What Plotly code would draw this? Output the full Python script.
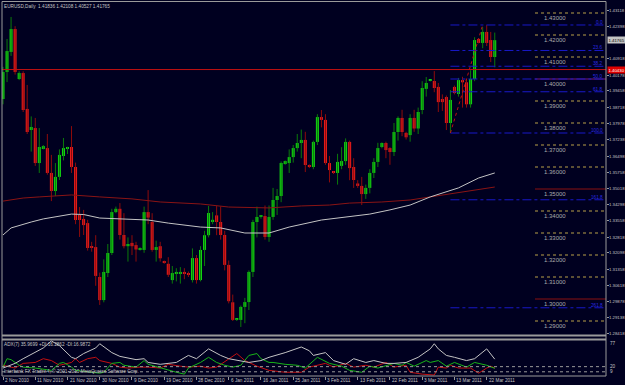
import plotly.graph_objects as go

# ---------------- data ----------------
dates = ["2010-11-02","2010-11-03","2010-11-04","2010-11-05","2010-11-07","2010-11-08","2010-11-09","2010-11-10",
         "2010-11-11","2010-11-12","2010-11-14","2010-11-15","2010-11-16","2010-11-17","2010-11-18","2010-11-19",
         "2010-11-21","2010-11-22","2010-11-23","2010-11-24","2010-11-25","2010-11-26","2010-11-28","2010-11-29",
         "2010-11-30","2010-12-01","2010-12-02","2010-12-03","2010-12-05","2010-12-06","2010-12-07","2010-12-08",
         "2010-12-09","2010-12-10","2010-12-12","2010-12-13","2010-12-14","2010-12-15","2010-12-16","2010-12-17",
         "2010-12-19","2010-12-20","2010-12-21","2010-12-22","2010-12-23","2010-12-24","2010-12-26","2010-12-27",
         "2010-12-28","2010-12-29","2010-12-30","2010-12-31","2011-01-02","2011-01-03","2011-01-04","2011-01-05",
         "2011-01-06","2011-01-07","2011-01-09","2011-01-10","2011-01-11","2011-01-12","2011-01-13","2011-01-14",
         "2011-01-16","2011-01-17","2011-01-18","2011-01-19","2011-01-20","2011-01-21","2011-01-23","2011-01-24",
         "2011-01-25","2011-01-26","2011-01-27","2011-01-28","2011-01-30","2011-01-31","2011-02-01","2011-02-02",
         "2011-02-03","2011-02-04","2011-02-06","2011-02-07","2011-02-08","2011-02-09","2011-02-10","2011-02-11",
         "2011-02-13","2011-02-14","2011-02-15","2011-02-16","2011-02-17","2011-02-18","2011-02-20","2011-02-21",
         "2011-02-22","2011-02-23","2011-02-24","2011-02-25","2011-02-27","2011-02-28","2011-03-01","2011-03-02",
         "2011-03-03","2011-03-04","2011-03-06","2011-03-07","2011-03-08","2011-03-09","2011-03-10","2011-03-11",
         "2011-03-13","2011-03-14","2011-03-15","2011-03-16","2011-03-17","2011-03-18","2011-03-20","2011-03-21",
         "2011-03-22","2011-03-23","2011-03-24"]

opens = [1.3909,1.4032,1.4123,1.4227,1.4000,1.4027,1.3864,1.3768,1.3777,1.3618,1.3686,1.3686,1.3573,1.3491,1.3555,1.3650,
         1.3686,1.3691,1.3600,1.3382,1.3364,1.3345,1.3240,1.3236,1.3100,1.2995,1.3118,1.3209,1.3395,1.3410,1.3291,1.3240,
         1.3255,1.3245,1.3225,1.3223,1.3395,1.3350,1.3223,1.3240,1.3170,1.3160,1.3086,1.3118,1.3118,1.3123,1.3118,1.3086,
         1.3186,1.3086,1.3223,1.3290,1.3350,1.3380,1.3350,1.3291,1.3155,1.2985,1.2905,1.2905,1.2964,1.2986,1.3123,1.3350,
         1.3373,1.3377,1.3282,1.3373,1.3450,1.3468,1.3618,1.3618,1.3645,1.3686,1.3709,1.3723,1.3609,1.3600,1.3714,1.3827,
         1.3814,1.3618,1.3575,1.3573,1.3605,1.3627,1.3714,1.3600,1.3525,1.3514,1.3477,1.3505,1.3573,1.3623,1.3691,1.3709,
         1.3686,1.3668,1.3759,1.3823,1.3755,1.3745,1.3823,1.3775,1.3859,1.3955,1.3991,1.3991,1.3964,1.3909,1.3918,1.3800,
         1.3964,1.3932,1.3995,1.3985,1.3885,1.4000,1.4182,1.4164,1.4214,1.4177,1.4100]
highs = [1.4055,1.4182,1.4282,1.4240,1.4035,1.4035,1.3973,1.3830,1.3823,1.3777,1.3700,1.3750,1.3655,1.3618,1.3680,1.3732,
         1.3692,1.3786,1.3620,1.3418,1.3405,1.3360,1.3260,1.3290,1.3120,1.3180,1.3250,1.3410,1.3420,1.3436,1.3390,1.3280,
         1.3290,1.3260,1.3235,1.3420,1.3495,1.3390,1.3265,1.3260,1.3175,1.3190,1.3150,1.3140,1.3145,1.3140,1.3125,1.3230,
         1.3200,1.3240,1.3310,1.3423,1.3395,1.3423,1.3420,1.3310,1.3175,1.3020,1.2910,1.2970,1.3005,1.3130,1.3360,1.3420,
         1.3382,1.3425,1.3425,1.3505,1.3500,1.3625,1.3630,1.3680,1.3700,1.3750,1.3770,1.3760,1.3612,1.3720,1.3840,1.3859,
         1.3840,1.3650,1.3580,1.3660,1.3690,1.3730,1.3720,1.3640,1.3540,1.3555,1.3520,1.3590,1.3640,1.3710,1.3712,1.3715,
         1.3690,1.3800,1.3830,1.3860,1.3760,1.3840,1.3860,1.3870,1.3990,1.4009,1.3993,1.4036,1.3982,1.3930,1.3925,1.3950,
         1.3970,1.4005,1.4010,1.4000,1.4040,1.4190,1.4185,1.4236,1.4245,1.4214,1.4211]
lows = [1.3885,1.3986,1.4105,1.4020,1.3995,1.3850,1.3750,1.3670,1.3605,1.3573,1.3680,1.3565,1.3445,1.3468,1.3541,1.3630,
        1.3659,1.3573,1.3340,1.3282,1.3291,1.3220,1.3215,1.3060,1.2973,1.2985,1.3100,1.3200,1.3390,1.3270,1.3230,1.3170,
        1.3200,1.3170,1.3220,1.3210,1.3340,1.3215,1.3170,1.3170,1.3160,1.3100,1.3070,1.3080,1.3070,1.3090,1.3100,1.3075,
        1.3070,1.3080,1.3150,1.3280,1.3340,1.3290,1.3270,1.3130,1.2980,1.2900,1.2900,1.2873,1.2890,1.2950,1.3100,1.3280,
        1.3365,1.3270,1.3260,1.3360,1.3382,1.3440,1.3610,1.3573,1.3620,1.3670,1.3640,1.3577,1.3595,1.3590,1.3700,1.3780,
        1.3610,1.3530,1.3568,1.3520,1.3590,1.3610,1.3540,1.3505,1.3505,1.3427,1.3455,1.3480,1.3550,1.3600,1.3685,1.3640,
        1.3610,1.3650,1.3720,1.3740,1.3725,1.3715,1.3760,1.3750,1.3840,1.3920,1.3989,1.3940,1.3850,1.3855,1.3768,1.3755,
        1.3930,1.3920,1.3870,1.3870,1.3870,1.3990,1.4162,1.4140,1.4150,1.4077,1.4053]
closes = [1.4032,1.4127,1.4227,1.4032,1.4027,1.3859,1.3759,1.3782,1.3618,1.3691,1.3695,1.3573,1.3491,1.3555,1.3655,1.3686,
          1.3691,1.3600,1.3359,1.3359,1.3336,1.3232,1.3236,1.3105,1.2995,1.3123,1.3209,1.3395,1.3410,1.3291,1.3240,1.3250,
          1.3240,1.3225,1.3230,1.3395,1.3370,1.3223,1.3236,1.3185,1.3164,1.3110,1.3118,1.3123,1.3123,1.3118,1.3110,1.3186,
          1.3086,1.3223,1.3290,1.3391,1.3360,1.3350,1.3291,1.3155,1.2990,1.2905,1.2905,1.2964,1.2986,1.3123,1.3350,1.3373,
          1.3377,1.3282,1.3373,1.3450,1.3468,1.3618,1.3627,1.3645,1.3686,1.3709,1.3723,1.3609,1.3600,1.3714,1.3827,1.3814,
          1.3618,1.3586,1.3573,1.3623,1.3627,1.3714,1.3595,1.3541,1.3514,1.3477,1.3505,1.3573,1.3623,1.3686,1.3709,1.3677,
          1.3668,1.3759,1.3823,1.3759,1.3735,1.3823,1.3775,1.3850,1.3959,1.3982,1.3991,1.3959,1.3895,1.3895,1.3800,1.3905,
          1.3936,1.3995,1.3985,1.3885,1.4000,1.4177,1.4164,1.4214,1.4164,1.4100,1.41765]

# moving averages (bar index, price)
wma_idx = [0,2,7,10,17,20,24,29,36,41,49,54,60,66,71,79,85,91,96,101,106,113,118,122]
wma_val = [1.3291,1.3323,1.3350,1.3364,1.3386,1.3384,1.3368,1.3364,1.3359,1.3345,1.3327,1.3323,1.3300,1.3300,
           1.3327,1.3359,1.3373,1.3386,1.3405,1.3427,1.3464,1.3505,1.3550,1.3573]
rma_idx = [0,5,9,17,24,32,39,49,56,66,74,81,86,94,101,106,113,122]
rma_val = [1.3445,1.3459,1.3464,1.3473,1.3464,1.3455,1.3441,1.3432,1.3418,1.3414,1.3423,1.3427,1.3436,1.3441,
           1.3450,1.3464,1.3482,1.3509]

# ADX(7) sub-window (bar index, value)
adx_idx = [0,3,5,8,10,12,14,17,18,20,23,24,27,29,33,35,36,39,43,46,48,51,54,56,59,61,64,66,70,74,76,77,80,82,85,
           87,90,92,95,97,100,101,103,106,107,108,110,112,115,117,120,122]
adx_val = [17,27,37,50,60,75,65,40,37,48,60,69,50,42,35,37,29,25,29,44,37,58,44,37,33,29,33,40,50,62,54,44,50,33,25,
           37,29,33,27,27,29,33,40,58,69,58,44,40,33,37,58,36]
pdi_idx = [0,1,2,4,5,8,12,13,14,15,17,18,22,24,25,27,29,30,33,35,36,39,43,45,46,49,51,53,55,57,59,61,63,64,66,67,
           70,73,75,78,81,84,86,89,91,93,96,97,99,100,102,105,106,108,110,112,115,117,120,121,122]
pdi_val = [19,37,35,23,19,17,12,19,27,29,19,12,8,6,8,27,29,23,19,33,25,17,8,4,17,29,40,29,23,19,23,44,48,37,29,29,
           25,23,17,40,27,21,12,8,21,17,25,27,23,29,21,33,29,33,21,29,19,29,23,19,16.3]
mdi_idx = [0,2,3,5,8,10,12,14,17,18,19,21,23,24,27,29,31,34,36,39,41,44,46,49,51,53,56,58,60,63,66,70,74,76,80,82,
           85,87,90,92,95,97,100,101,104,106,107,108,110,111,113,116,118,120,121,122]
mdi_val = [23,19,17,27,29,37,33,23,29,37,29,37,40,33,27,19,17,19,19,17,25,21,19,21,17,19,37,48,33,21,12,8,8,19,27,19,
           27,19,23,19,29,19,23,8,4,2,2,19,17,23,17,17,6,17,21,17]

# axis labels
label_dates = ["2010-11-02","2010-11-11","2010-11-21","2010-11-30","2010-12-09","2010-12-19","2010-12-28","2011-01-06",
               "2011-01-16","2011-01-25","2011-02-03","2011-02-13","2011-02-22","2011-03-03","2011-03-13","2011-03-22"]
label_text = ["2 Nov 2010","11 Nov 2010","21 Nov 2010","30 Nov 2010","9 Dec 2010","19 Dec 2010","28 Dec 2010",
              "6 Jan 2011","16 Jan 2011","25 Jan 2011","3 Feb 2011","13 Feb 2011","22 Feb 2011","3 Mar 2011",
              "13 Mar 2011","22 Mar 2011"]
price_ticks = [1.43118,1.42398,1.40918,1.40178,1.39458,1.38718,1.37978,1.37238,1.36498,1.35758,1.35018,1.34298,
               1.33558,1.32818,1.32098,1.31358,1.30618,1.29878,1.29138,1.28418]

# chart objects
last_price = 1.41765
hline_price = 1.40430
levels_dotted = [1.43,1.42,1.41,1.39,1.38,1.37,1.36,1.34,1.33,1.32,1.31,1.29]
levels_solid = [1.40,1.35,1.30]
fib_ratios = [0.0,23.6,38.2,50.0,61.8,100.0,161.8,261.8]
fib_high, fib_low = 1.42455, 1.37545
fib_start, fib_end = "2011-03-11", "2011-03-21"
adx_levels = [20, 9]

title_txt = "EURUSD,Daily  1.41836 1.42108 1.40527 1.41765"
adx_txt = "ADX(7) 35.9699 +DI:16.2862 -DI:16.9872"
copy_txt = "Interbank FX Trader 4, \u00a9 2001-2010 MetaQuotes Software Corp."

# ---------------- styles ----------------
BG = "#000020"
TXT = "#c4c4c4"
BULL, BEAR = "#12d412", "#e51c1c"
BULL_W, BEAR_W = "#0a7a0a", "#8e0b0b"
FONT = "Liberation Sans"
FS = 4.7
FSR = 4.3
XR = [-0.25, 149.6]
W_PLOT = 604.0

def px_x(pix):
    return (pix - 2) / W_PLOT

def py(pix):
    return (376 - pix) / 374

fig = go.Figure()

# wicks
ux, uy, dx, dy = [], [], [], []
for d, o, h, l, c in zip(dates, opens, highs, lows, closes):
    if c >= o:
        ux += [d, d, None]; uy += [l, h, None]
    else:
        dx += [d, d, None]; dy += [l, h, None]
fig.add_trace(go.Scatter(x=ux, y=uy, mode="lines", line=dict(color=BULL_W, width=1), hoverinfo="skip"))
fig.add_trace(go.Scatter(x=dx, y=dy, mode="lines", line=dict(color=BEAR_W, width=1), hoverinfo="skip"))

# bodies
base = [min(o, c) for o, c in zip(opens, closes)]
hgt = [max(abs(c - o), 0.00045) for o, c in zip(opens, closes)]
cols = [BULL if c >= o else BEAR for o, c in zip(opens, closes)]
fig.add_trace(go.Bar(x=dates, y=hgt, base=base, width=0.75, marker=dict(color=cols, line=dict(width=0)),
                     hoverinfo="skip"))

# moving averages
fig.add_trace(go.Scatter(x=[dates[i] for i in rma_idx], y=rma_val, mode="lines",
                         line=dict(color="#8a1414", width=1), hoverinfo="skip"))
fig.add_trace(go.Scatter(x=[dates[i] for i in wma_idx], y=wma_val, mode="lines",
                         line=dict(color="#c4c4c4", width=1), hoverinfo="skip"))

# ADX
for idx, val, col in [(mdi_idx, mdi_val, "#c41010"), (pdi_idx, pdi_val, "#18b418"), (adx_idx, adx_val, "#c4c4c4")]:
    fig.add_trace(go.Scatter(x=[dates[i] for i in idx], y=val, yaxis="y2", mode="lines",
                             line=dict(color=col, width=1), hoverinfo="skip"))

shapes = []
ann = []

# objects on price chart
LV_X0 = px_x(535)
for lv in levels_dotted:
    shapes.append(dict(type="line", xref="paper", yref="y", x0=LV_X0, x1=1, y0=lv, y1=lv,
                       line=dict(color="#b8a048", width=1, dash="dot")))
for lv, col in zip(levels_solid, ["#7a1a7a", "#8a1010", "#8a1010"]):
    shapes.append(dict(type="line", xref="paper", yref="y", x0=LV_X0, x1=1, y0=lv, y1=lv,
                       line=dict(color=col, width=1)))
for lv in levels_dotted + levels_solid:
    ann.append(dict(x=px_x(543), y=lv, xref="paper", yref="y", text=f"{lv:.5f}", showarrow=False,
                    xanchor="left", yanchor="top", yshift=-1, borderpad=0,
                    font=dict(family=FONT, size=6, color="#aaaaaa")))

rng = fib_high - fib_low
for r in fib_ratios:
    p = fib_high - r / 100 * rng
    shapes.append(dict(type="line", xref="x", yref="y", x0=dates.index(fib_start), x1=XR[1], y0=p, y1=p,
                       line=dict(color="#1818c8", width=1, dash="dashdot")))
    ann.append(dict(x=1, y=p, xref="paper", yref="y", text=f"{r:.1f}", showarrow=False, xanchor="right",
                    yanchor="bottom", xshift=-2, yshift=-1, borderpad=0,
                    font=dict(family=FONT, size=FS, color="#2a2ae0")))
shapes.append(dict(type="line", xref="x", yref="y", x0=dates.index(fib_start), x1=dates.index(fib_end),
                   y0=fib_low, y1=fib_high, line=dict(color="#c01010", width=1, dash="dot")))

shapes.append(dict(type="line", xref="paper", yref="y", x0=0, x1=1, y0=hline_price, y1=hline_price,
                   line=dict(color="#c01010", width=1)))

# indicator levels
for lv in adx_levels:
    shapes.append(dict(type="line", xref="paper", yref="y2", x0=0, x1=1, y0=lv, y1=lv,
                       line=dict(color="#9a9a9a", width=1, dash="dot")))

# frames
for yy, w in [(py(1.5), 1), (py(335.5), 2), (py(339.5), 2), (py(376), 1)]:
    shapes.append(dict(type="line", xref="paper", yref="paper", x0=0, x1=1, y0=yy, y1=yy,
                       line=dict(color="#9a9a9a", width=w)))
for xx in [0, 1]:
    shapes.append(dict(type="line", xref="paper", yref="paper", x0=xx, x1=xx, y0=0, y1=py(1.5),
                       line=dict(color="#9a9a9a", width=1)))

# texts
ann.append(dict(x=0, y=1, xref="paper", yref="paper", text=title_txt, showarrow=False, xanchor="left",
                yanchor="top", xshift=1, yshift=-1, borderpad=0, font=dict(family=FONT, size=FS, color=TXT)))
ann.append(dict(x=0, y=py(340), xref="paper", yref="paper", text=adx_txt, showarrow=False, xanchor="left",
                yanchor="top", xshift=1, yshift=-1, borderpad=0, font=dict(family=FONT, size=FS, color=TXT)))
ann.append(dict(x=0, y=py(376), xref="paper", yref="paper", text=copy_txt, showarrow=False, xanchor="left",
                yanchor="bottom", xshift=1, yshift=1, borderpad=0, font=dict(family=FONT, size=FS, color=TXT)))
for d, t in zip(label_dates, label_text):
    ann.append(dict(x=d, y=0, xref="x", yref="paper", text=t, showarrow=False, xanchor="left",
                    yanchor="top", xshift=1, yshift=-1, borderpad=0, font=dict(family=FONT, size=FS, color=TXT)))

# right price scale labels
for v in price_ticks:
    ann.append(dict(x=1, y=v, xref="paper", yref="y", text=f"{v:.5f}", showarrow=False, xanchor="left",
                    yanchor="middle", xshift=2, borderpad=0, font=dict(family=FONT, size=FSR, color=TXT)))
ann.append(dict(x=1, y=77, xref="paper", yref="y2", text="77", showarrow=False, xanchor="left",
                yanchor="top", xshift=3, borderpad=0, font=dict(family=FONT, size=FS, color=TXT)))
for lv in adx_levels:
    ann.append(dict(x=1, y=lv, xref="paper", yref="y2", text=str(lv), showarrow=False, xanchor="left",
                    yanchor="middle", xshift=3, borderpad=0, font=dict(family=FONT, size=FS, color=TXT)))
ann.append(dict(x=1, y=last_price, xref="paper", yref="y", text=f"{last_price:.5f}", showarrow=False,
                xanchor="left", yanchor="middle", xshift=1, bgcolor="#c4c4c4", borderpad=0.5,
                font=dict(family=FONT, size=FSR, color="#000000")))
ann.append(dict(x=1, y=hline_price, xref="paper", yref="y", text=f"{hline_price:.5f}", showarrow=False,
                xanchor="left", yanchor="middle", xshift=1, bgcolor="#e00000", borderpad=0.5,
                font=dict(family=FONT, size=FSR, color="#ffffff")))

fig.update_layout(
    width=625, height=385, margin=dict(l=2, r=19, t=2, b=9, autoexpand=False),
    paper_bgcolor=BG, plot_bgcolor=BG, showlegend=False, barmode="overlay", hovermode=False,
    xaxis=dict(type="category", categoryorder="array", categoryarray=dates, range=XR, anchor="y2",
               showgrid=False, zeroline=False, showline=False, ticks="outside", ticklen=3, tickcolor="#9a9a9a",
               tickvals=label_dates, showticklabels=False, fixedrange=True, automargin=False),
    yaxis=dict(domain=[py(334), 1], range=[1.28409, 1.4350], side="right", anchor="x",
               tickvals=price_ticks, showticklabels=False, ticks="outside", ticklen=2,
               tickcolor="#9a9a9a", automargin=False,
               showgrid=False, zeroline=False, showline=False),
    yaxis2=dict(domain=[0, py(340)], range=[0, 77], side="right", anchor="x", showticklabels=False,
                showgrid=False, zeroline=False, showline=False, automargin=False),
    shapes=shapes, annotations=ann,
)

fig.write_html("out.html")
